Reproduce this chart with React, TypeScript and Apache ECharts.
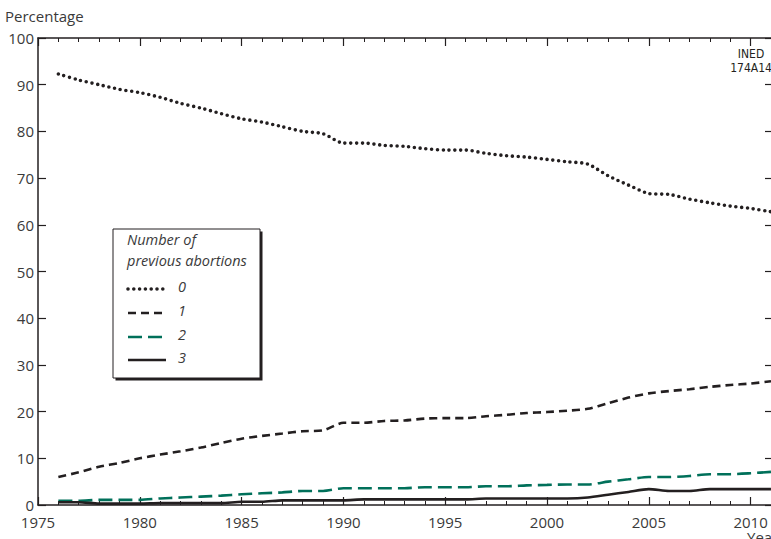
import { useEffect, useRef } from "react";
import * as echarts from "echarts";

const years = [
  1976, 1977, 1978, 1979, 1980, 1981, 1982, 1983, 1984, 1985, 1986, 1987,
  1988, 1989, 1990, 1991, 1992, 1993, 1994, 1995, 1996, 1997, 1998, 1999,
  2000, 2001, 2002, 2003, 2004, 2005, 2006, 2007, 2008, 2009, 2010, 2011,
];
const prev0 = [
  92.3, 91, 90, 89, 88.3, 87.3, 86, 85, 83.8, 82.7, 82, 81, 80, 79.5, 77.5,
  77.5, 77, 76.8, 76.3, 76, 76, 75.3, 74.8, 74.5, 74, 73.5, 73, 70.5, 68.5,
  66.7, 66.5, 65.5, 64.7, 64, 63.5, 62.8,
];
const prev1 = [
  6, 7, 8.2, 9, 10, 10.8, 11.5, 12.3, 13.3, 14.2, 14.8, 15.3, 15.8, 16, 17.6,
  17.6, 18, 18.1, 18.5, 18.6, 18.6, 19, 19.3, 19.7, 19.9, 20.2, 20.6, 21.8, 23,
  23.9, 24.4, 24.8, 25.3, 25.7, 26, 26.5,
];
const prev2 = [
  0.9, 0.9, 1.1, 1.1, 1.1, 1.4, 1.6, 1.8, 2.0, 2.3, 2.5, 2.7, 3.0, 3.0, 3.6,
  3.6, 3.6, 3.6, 3.8, 3.8, 3.8, 4.0, 4.0, 4.2, 4.3, 4.4, 4.4, 5.0, 5.5, 6.0,
  6.0, 6.2, 6.6, 6.6, 6.8, 7.1,
];
const prev3 = [
  0.6, 0.6, 0.3, 0.3, 0.3, 0.4, 0.4, 0.4, 0.4, 0.7, 0.7, 1.0, 1.0, 1.0, 1.0,
  1.2, 1.2, 1.2, 1.2, 1.2, 1.2, 1.4, 1.4, 1.4, 1.4, 1.4, 1.6, 2.2, 2.8, 3.4,
  3.0, 3.0, 3.4, 3.4, 3.4, 3.4,
];
const seriesNames = ["0", "1", "2", "3"];
const legendTitle = ["Number of", "previous abortions"];

const INK = "#231f20";
const GREEN = "#00705a";
const TEXT = "#3a3a3a";
const FONT = "'Open Sans', 'Noto Sans', sans-serif";

export default function App() {
  const ref = useRef<HTMLDivElement>(null);
  useEffect(() => {
    const chart = echarts.init(ref.current!, null, { renderer: "svg" });
    const pairs = (v: number[]) => years.map((y, i) => [y, v[i]]);
    const axisLine = { show: true, onZero: false, lineStyle: { color: INK, width: 1.5 } };
    const xCommon = {
      type: "value",
      min: 1975,
      max: 2011.1,
      interval: 5,
      axisLine,
      axisTick: { show: true, inside: false, length: -8, lineStyle: { color: INK, width: 1.2 } },
      minorTick: { show: true, splitNumber: 5, length: -4, lineStyle: { color: INK, width: 1 } },
      splitLine: { show: false },
      minorSplitLine: { show: false },
    };
    const yCommon = {
      type: "value",
      min: 0,
      max: 100,
      interval: 10,
      axisLine,
      axisTick: { show: true, inside: false, length: -8, lineStyle: { color: INK, width: 1.2 } },
      splitLine: { show: false },
    };
    const lineStyles = [
      { color: INK, width: 3.6, type: [0, 5.8], cap: "round" },
      { color: INK, width: 2.6, type: [8, 5] },
      { color: GREEN, width: 2.6, type: [14, 6] },
      { color: INK, width: 2.6, type: "solid" },
    ];
    const data = [prev0, prev1, prev2, prev3];

    const legendX = 113;
    const legendY = 229;
    const rowsY = [289, 313, 337, 360];

    chart.setOption({
      animation: false,
      backgroundColor: "#ffffff",
      textStyle: { fontFamily: FONT },
      grid: { left: 38, right: 17, top: 38, bottom: 34, containLabel: false },
      xAxis: [
        {
          ...xCommon,
          position: "bottom",
          axisLabel: {
            show: true,
            margin: 9,
            fontSize: 15,
            lineHeight: 15,
            color: TEXT,
            fontFamily: FONT,
            showMaxLabel: false,
            formatter: (v: number) => String(v),
          },
        },
        { ...xCommon, position: "top", axisLabel: { show: false } },
      ],
      yAxis: [
        {
          ...yCommon,
          position: "left",
          axisLabel: {
            show: true,
            margin: 4,
            fontSize: 15,
            lineHeight: 15,
            color: TEXT,
            fontFamily: FONT,
            padding: [0, 0, 6, 0],
            formatter: (v: number) => String(v),
          },
        },
        { ...yCommon, position: "right", axisLabel: { show: false } },
      ],
      series: data.map((v, i) => ({
        type: "line",
        name: seriesNames[i],
        data: pairs(v),
        showSymbol: false,
        smooth: 0.25,
        lineStyle: lineStyles[i],
        z: 3 + i,
      })),
      graphic: [
        {
          type: "text",
          left: 5,
          top: 8,
          style: { text: "Percentage", fontSize: 15, fill: TEXT, fontFamily: FONT },
        },
        {
          type: "text",
          x: 747,
          y: 529,
          style: { text: "Year", fontSize: 15, lineHeight: 15, fill: TEXT, fontFamily: FONT },
        },
        {
          type: "text",
          x: 751,
          y: 47,
          style: {
            text: "INED\n174A14",
            fontSize: 12,
            lineHeight: 14,
            fill: INK,
            align: "center",
            fontFamily: "'Liberation Sans Narrow', 'DejaVu Sans Condensed', sans-serif",
          },
        },
        {
          type: "rect",
          shape: { x: legendX + 2.5, y: legendY + 2.5, width: 147, height: 149 },
          style: { fill: INK },
          z: 10,
        },
        {
          type: "rect",
          shape: { x: legendX, y: legendY, width: 147, height: 149 },
          style: { fill: "#ffffff", stroke: INK, lineWidth: 1 },
          z: 11,
        },
        ...legendTitle.map((t, i) => ({
          type: "text",
          x: 127,
          y: 232 + i * 21,
          z: 12,
          style: { text: t, fontSize: 14.5, fontStyle: "italic", fill: TEXT, fontFamily: FONT },
        })),
        ...seriesNames.flatMap((n, i) => [
          {
            type: "line",
            z: 12,
            shape: { x1: 128, y1: rowsY[i], x2: 166, y2: rowsY[i] },
            style: {
              stroke: lineStyles[i].color,
              lineWidth: lineStyles[i].width,
              lineDash: Array.isArray(lineStyles[i].type) ? lineStyles[i].type : null,
              lineCap: i === 0 ? "round" : "butt",
            },
          },
          {
            type: "text",
            x: 178,
            y: rowsY[i] - 10,
            z: 12,
            style: { text: n, fontSize: 14.5, fontStyle: "italic", fill: TEXT, fontFamily: FONT },
          },
        ]),
      ],
    });
    return () => chart.dispose();
  }, []);
  return (
    <div
      style={{
        position: "fixed",
        left: 0,
        top: 0,
        width: 771,
        height: 539,
        overflow: "hidden",
        background: "#fff",
      }}
    >
      <div ref={ref} style={{ width: 790, height: 539 }} />
    </div>
  );
}
